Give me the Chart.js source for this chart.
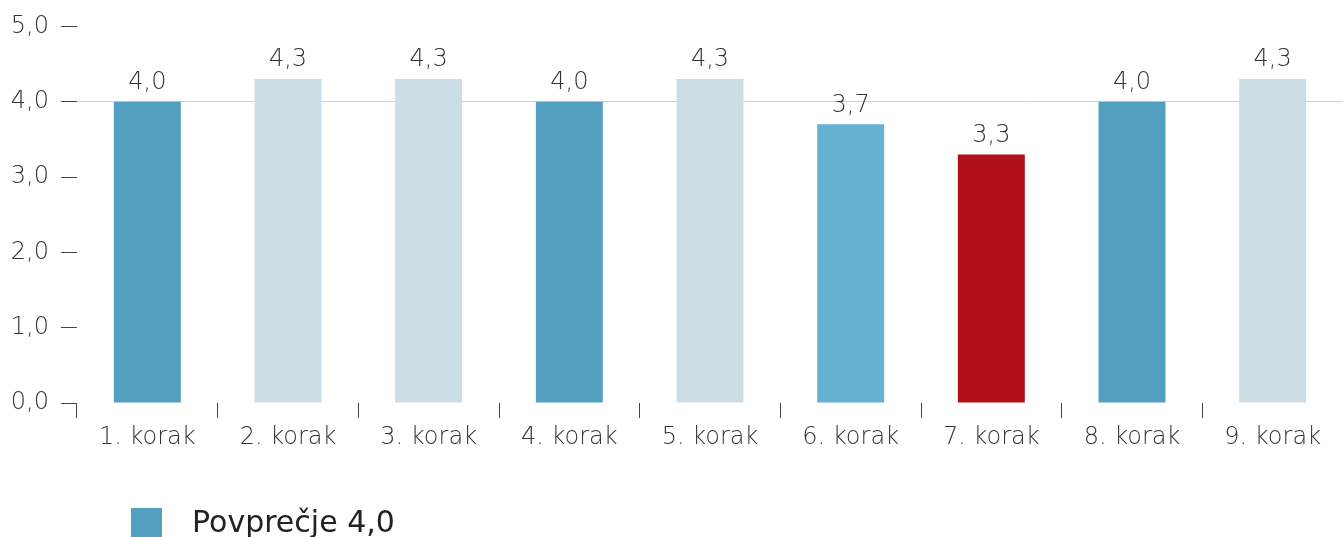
<!DOCTYPE html>
<html>
<head>
<meta charset="utf-8">
<script src="https://cdn.jsdelivr.net/npm/chart.js@4.4.0/dist/chart.umd.min.js"></script>
<style>
  html, body { margin:0; padding:0; background:#fff; overflow:hidden; }
  #wrap { position:relative; width:1343px; height:537px; }
  #legend { position:absolute; left:131px; top:508px; display:flex; align-items:flex-start; font-family:"DejaVu Sans", sans-serif; font-size:30px; color:#222; }
  #legend .box { width:31px; height:31px; background:#529fbf; margin-right:30px; }
  #legend .txt { line-height:30px; margin-top:-1px; }
</style>
</head>
<body>
<div id="wrap">
  <canvas id="c" width="1343" height="537"></canvas>
  <div id="legend"><div class="box"></div><div class="txt" id="legendText"></div></div>
</div>
<script>
const categories = ["1. korak","2. korak","3. korak","4. korak","5. korak","6. korak","7. korak","8. korak","9. korak"];
const values = [4.0, 4.3, 4.3, 4.0, 4.3, 3.7, 3.3, 4.0, 4.3];
const barColors = ["#529fbf","#cddde6","#cddde6","#529fbf","#cddde6","#66b0d4","#b21018","#529fbf","#cddde6"];
const yTicks = [0,1,2,3,4,5];
const averageValue = 4.0;
const legendLabel = "Povprečje 4,0";

document.getElementById('legendText').textContent = legendLabel;

const fmt = v => v.toFixed(1).replace('.', ',');
const FONT = '"DejaVu Sans", sans-serif';

const valueLabels = {
  id: 'valueLabels',
  afterDatasetsDraw(chart) {
    const ctx = chart.ctx;
    const meta = chart.getDatasetMeta(0);
    ctx.save();
    ctx.font = '200 24px ' + FONT;
    ctx.fillStyle = '#333';
    ctx.textAlign = 'center';
    ctx.textBaseline = 'bottom';
    meta.data.forEach((bar, i) => {
      ctx.fillText(fmt(values[i]), bar.x, bar.y - 7);
    });
    ctx.restore();
  }
};

new Chart(document.getElementById('c'), {
  type: 'bar',
  data: {
    labels: categories,
    datasets: [{
      label: legendLabel,
      data: values,
      backgroundColor: barColors,
      borderWidth: 0,
      categoryPercentage: 1.0,
      barPercentage: 0.476
    }]
  },
  options: {
    responsive: false,
    animation: false,
    layout: { padding: { top: 25, right: 0, left: 0, bottom: 0 } },
    plugins: { legend: { display: false }, tooltip: { enabled: false } },
    scales: {
      x: {
        afterFit(s) { s.height = 134; },
        border: { display: false },
        grid: { offset: true, drawOnChartArea: false, drawTicks: true, tickLength: 15, tickColor: '#444', lineWidth: 1 },
        ticks: { color: '#333', font: { family: FONT, size: 24, weight: 200 }, padding: 5 }
      },
      y: {
        min: 0, max: 5,
        z: 1,
        afterFit(s) { s.width = 77; },
        afterBuildTicks(s) { s.ticks = yTicks.map(v => ({ value: v })); },
        border: { display: false },
        grid: {
          drawOnChartArea: true,
          drawTicks: true,
          tickLength: 16,
          tickColor: '#444',
          lineWidth: 1,
          color: ctx => (ctx.tick && ctx.tick.value === averageValue) ? 'rgba(190,190,190,0.7)' : 'rgba(0,0,0,0)'
        },
        ticks: { color: '#333', font: { family: FONT, size: 24, weight: 200 }, padding: 12, callback: v => fmt(v) }
      }
    }
  },
  plugins: [valueLabels]
});
</script>
</body>
</html>
